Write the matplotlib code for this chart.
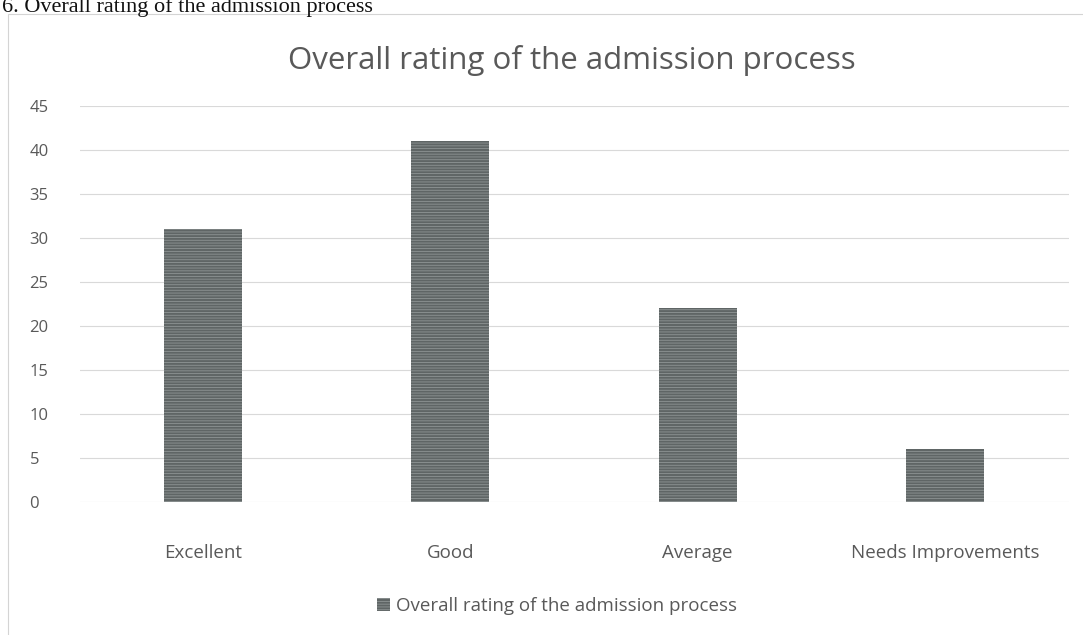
import matplotlib
matplotlib.use('Agg')
import matplotlib.pyplot as plt
import matplotlib.patches as patches
import numpy as np

plt.rcParams['font.family'] = ['Open Sans', 'DejaVu Sans']
plt.rcParams['hatch.linewidth'] = 0.6

# data
categories = ['Excellent', 'Good', 'Average', 'Needs Improvements']
ratings = [31, 41, 22, 6]
series_name = 'Overall rating of the admission process'
title = 'Overall rating of the admission process'
heading = '6. Overall rating of the admission process'
yticks = [0, 5, 10, 15, 20, 25, 30, 35, 40, 45]

text_col = '#595959'
bar_col = '#5f6565'

fig = plt.figure(figsize=(10.83, 6.35), dpi=100)

# chart border (scan of excel chart)
fig.patches.append(patches.Rectangle((8 / 1083, -0.02), 1.1, 1 - 14 / 635 + 0.02,
                                     transform=fig.transFigure, fill=False,
                                     edgecolor='#d4d4d4', linewidth=0.8))

# heading of the document, cut off at top in the scan
fig.text(2 / 1083, 1 - 12 / 635, heading, family='Liberation Serif', fontsize=16,
         color='#111111', ha='left', va='baseline')

ax = fig.add_axes([79.5 / 1083, 1 - 502 / 635, (1068.5 - 79.5) / 1083, (502 - 106) / 635])

x = np.arange(len(categories))
ax.bar(x, ratings, width=0.315, color=bar_col, edgecolor='#8f9595', hatch='------',
       linewidth=0, label=series_name, zorder=3)

ax.set_xlim(-0.5, len(categories) - 0.5)
ax.set_ylim(0, 45)
ax.set_yticks(yticks)
ax.set_xticks(x)
ax.set_xticklabels(categories)
ax.grid(axis='y', color='#d9d9d9', linewidth=0.8, zorder=0)
ax.tick_params(axis='both', length=0, colors=text_col, labelsize=12)
ax.tick_params(axis='x', pad=30, labelsize=13.5)
ax.tick_params(axis='y', pad=36)
for lab in ax.get_yticklabels():
    lab.set_horizontalalignment('left')
for s in ax.spines.values():
    s.set_visible(False)

fig.text(572 / 1083, 1 - 60 / 635, title, fontsize=22.5, color=text_col,
         ha='center', va='center')

fig.legend(loc='center', bbox_to_anchor=(557 / 1083, 1 - 606 / 635), frameon=False,
           fontsize=13.5, labelcolor=text_col, handlelength=0.7, handleheight=0.7,
           handletextpad=0.3)

fig.savefig('out.png', dpi=100)
